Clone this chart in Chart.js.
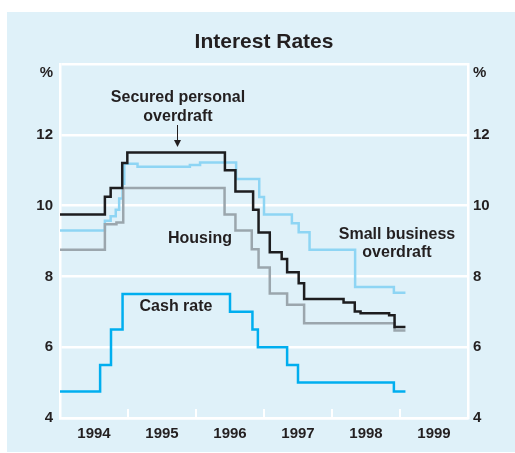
<!DOCTYPE html>
<html>
<head>
<meta charset="utf-8">
<title>Interest Rates</title>
<script src="https://cdn.jsdelivr.net/npm/chart.js@4.4.1/dist/chart.umd.min.js"></script>
<style>
  body { margin: 0; background: #fff; }
  canvas { display: block; }
</style>
</head>
<body>
<canvas id="rates" width="515" height="453"></canvas>
<script>
// step data: each value starts at its date, last entry just closes the line
const cashDates = [1994.0, 1994.59, 1994.75, 1994.92, 1996.50, 1996.83, 1996.91, 1997.34, 1997.50, 1998.91, 1999.08];
const cashRate  = [4.75, 5.5, 6.5, 7.5, 7.0, 6.5, 6.0, 5.5, 5.0, 4.75, 4.75];

const housingDates = [1994.0, 1994.66, 1994.83, 1994.93, 1996.42, 1996.58, 1996.82, 1996.92, 1997.085, 1997.34, 1997.59, 1998.92, 1999.08];
const housing      = [8.75, 9.47, 9.52, 10.5, 9.75, 9.3, 8.77, 8.25, 7.52, 7.2, 6.68, 6.47, 6.47];

const smallBizDates = [1994.0, 1994.66, 1994.745, 1994.82, 1994.87, 1994.92, 1994.945, 1995.14, 1995.91, 1996.06, 1996.59, 1996.93, 1997.0, 1997.41, 1997.51, 1997.67, 1998.34, 1998.91, 1999.08];
const smallBiz      = [9.3, 9.57, 9.7, 9.88, 10.2, 10.62, 11.18, 11.1, 11.15, 11.22, 10.75, 10.24, 9.75, 9.5, 9.25, 8.75, 7.7, 7.54, 7.54];

const securedDates = [1994.0, 1994.66, 1994.745, 1994.915, 1994.99, 1996.425, 1996.58, 1996.84, 1996.92, 1997.085, 1997.26, 1997.34, 1997.51, 1997.59, 1998.17, 1998.335, 1998.42, 1998.84, 1998.92, 1999.08];
const secured      = [9.75, 10.25, 10.5, 11.2, 11.5, 11.0, 10.4, 9.88, 9.24, 8.68, 8.49, 8.12, 7.81, 7.36, 7.26, 7.01, 6.96, 6.9, 6.57, 6.57];

const years = [1994, 1995, 1996, 1997, 1998, 1999];
const yTicks = [4, 6, 8, 10, 12, 14];

const ink = '#231f20';
const bold15 = { family: 'Liberation Sans, Arial, sans-serif', size: 15, weight: 'bold' };

function pts(dates, vals) {
  return dates.map((d, i) => ({ x: d, y: vals[i] }));
}

function line(label, dates, vals, color) {
  return {
    label: label,
    data: pts(dates, vals),
    borderColor: color,
    borderWidth: 2.5,
    stepped: true,
    pointRadius: 0,
    fill: false
  };
}

const panel = {
  id: 'panel',
  beforeDraw(chart) {
    const c = chart.ctx;
    c.save();
    c.fillStyle = '#fff';
    c.fillRect(0, 0, chart.width, chart.height);
    c.fillStyle = '#dff1f9';
    c.fillRect(7, 12, 508, 440);
    c.restore();
  },
  afterDraw(chart) {
    const c = chart.ctx;
    const xs = chart.scales.x;
    const area = chart.chartArea;
    c.save();
    // year ticks pointing up from the axis
    c.strokeStyle = '#fff';
    c.lineWidth = 2;
    years.slice(1).forEach(yr => {
      const px = Math.round(xs.getPixelForValue(yr));
      c.beginPath();
      c.moveTo(px, area.bottom);
      c.lineTo(px, area.bottom - 9);
      c.stroke();
    });

    c.fillStyle = ink;
    c.font = 'bold 21px Liberation Sans, Arial, sans-serif';
    c.textAlign = 'center';
    c.textBaseline = 'middle';
    c.fillText('Interest Rates', (area.left + area.right) / 2, 42);

    c.font = 'bold 15px Liberation Sans, Arial, sans-serif';
    c.textAlign = 'right';
    c.fillText('%', area.left - 7, 73);
    c.textAlign = 'left';
    c.fillText('%', area.right + 5, 73);

    c.font = 'bold 16px Liberation Sans, Arial, sans-serif';
    c.textAlign = 'center';
    c.fillText('Secured personal', 178, 98);
    c.fillText('overdraft', 178, 117);
    c.fillText('Housing', 200, 239);
    c.fillText('Small business', 397, 235);
    c.fillText('overdraft', 397, 253);
    c.fillText('Cash rate', 176, 307);

    // arrow to the secured overdraft line
    c.strokeStyle = ink;
    c.lineWidth = 1;
    c.beginPath();
    c.moveTo(177.5, 125);
    c.lineTo(177.5, 141);
    c.stroke();
    c.beginPath();
    c.moveTo(174, 140);
    c.lineTo(181, 140);
    c.lineTo(177.5, 147);
    c.closePath();
    c.fill();
    c.restore();
  }
};

new Chart(document.getElementById('rates'), {
  type: 'line',
  data: {
    datasets: [
      line('Secured personal overdraft', securedDates, secured, '#1d1d1f'),
      line('Cash rate', cashDates, cashRate, '#00aeef'),
      line('Housing', housingDates, housing, '#9ba6ad'),
      line('Small business overdraft', smallBizDates, smallBiz, '#8ed5f4')
    ]
  },
  options: {
    responsive: false,
    animation: false,
    devicePixelRatio: 1,
    layout: { padding: { top: 64, left: 0, right: 0, bottom: 0 } },
    plugins: {
      legend: { display: false },
      tooltip: { enabled: false }
    },
    scales: {
      x: {
        type: 'linear',
        min: 1994,
        max: 2000,
        afterFit(s) { s.height = 35; },
        afterBuildTicks(s) { s.ticks = years.concat([2000]).map(v => ({ value: v })); },
        ticks: {
          color: ink,
          font: bold15,
          padding: 7,
          labelOffset: 34,
          maxRotation: 0,
          autoSkip: false,
          callback: v => (v === 2000 ? '' : String(v))
        },
        grid: { display: false, drawTicks: false },
        border: { display: true, color: '#fff', width: 2.5 }
      },
      y: {
        position: 'left',
        min: 4,
        max: 14,
        afterFit(s) { s.width = 60; },
        afterBuildTicks(s) { s.ticks = yTicks.map(v => ({ value: v })); },
        ticks: {
          color: ink,
          font: bold15,
          padding: 7,
          callback: v => (v === 14 ? '' : String(v))
        },
        grid: { color: '#fff', lineWidth: 2.5, drawTicks: false },
        border: { display: true, color: '#fff', width: 2.5 }
      },
      y2: {
        position: 'right',
        min: 4,
        max: 14,
        afterFit(s) { s.width = 47; },
        afterBuildTicks(s) { s.ticks = yTicks.map(v => ({ value: v })); },
        ticks: {
          color: ink,
          font: bold15,
          padding: 5,
          callback: v => (v === 14 ? '' : String(v))
        },
        grid: { drawOnChartArea: false, drawTicks: false },
        border: { display: true, color: '#fff', width: 2.5 }
      }
    }
  },
  plugins: [panel]
});
</script>
</body>
</html>
